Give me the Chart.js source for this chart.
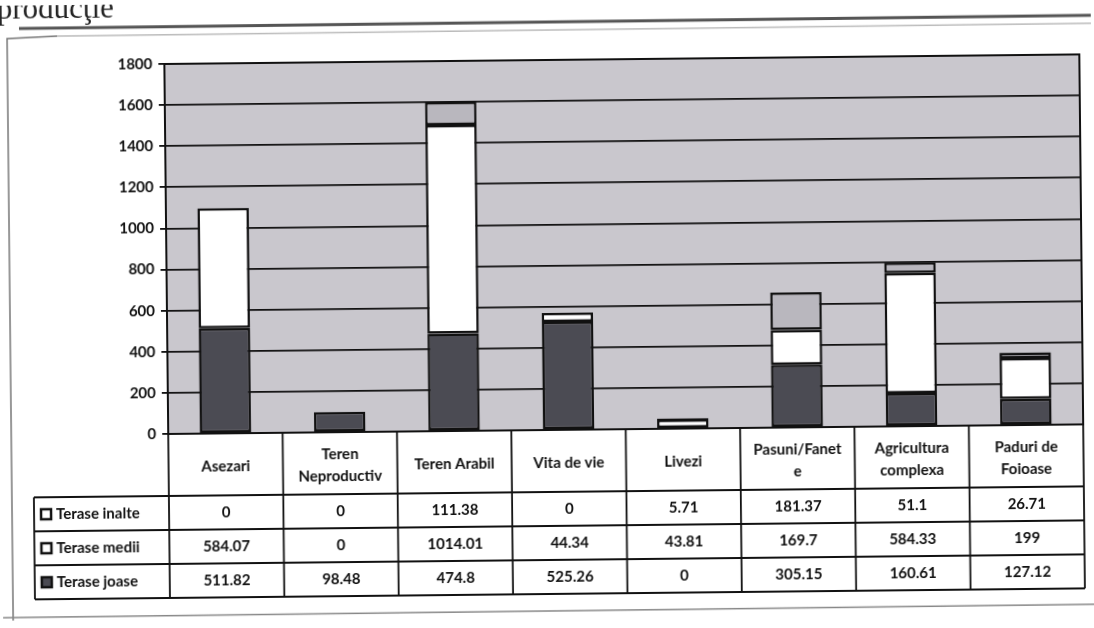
<!DOCTYPE html>
<html>
<head>
<meta charset="utf-8">
<script src="https://cdn.jsdelivr.net/npm/chart.js@4/dist/chart.umd.min.js"></script>
<style>
  html, body { margin: 0; padding: 0; background: #fff; overflow: hidden; }
  #wrap { width: 1094px; height: 628px; position: relative; }
  canvas { transform: rotate(-0.6deg); transform-origin: 50% 50%; }
</style>
</head>
<body>
<div id="wrap"><canvas id="c" width="1094" height="628"></canvas></div>
<script>
// Land use by terrace level (ha)
const categories = ['Asezari', ['Teren', 'Neproductiv'], 'Teren Arabil', 'Vita de vie', 'Livezi',
  ['Pasuni/Fanet', 'e'], ['Agricultura', 'complexa'], ['Paduri de', 'Foioase']];
const teraseJoase  = [511.82, 98.48, 474.8, 525.26, 0, 305.15, 160.61, 127.12];
const teraseMedii  = [584.07, 0, 1014.01, 44.34, 43.81, 169.7, 584.33, 199];
const teraseInalte = [0, 0, 111.38, 0, 5.71, 181.37, 51.1, 26.71];
const yTicks = [0, 200, 400, 600, 800, 1000, 1200, 1400, 1600, 1800];

const seriesNames = ['Terase inalte', 'Terase medii', 'Terase joase'];
const FONT = 'Lato, "Open Sans", sans-serif';
const C_DARK = '#4b4b53';
const C_WHITE = '#ffffff';
const C_GREY = '#b9b7be';
const C_BG = '#c9c7cd';

// zero values are left out of the bars so no empty outline is drawn
const nz = arr => arr.map(v => (v === 0 ? null : v));

const tableRows = [
  { name: seriesNames[0], values: teraseInalte, key: C_WHITE },
  { name: seriesNames[1], values: teraseMedii, key: C_WHITE },
  { name: seriesNames[2], values: teraseJoase, key: C_DARK }
];

const pagePlugin = {
  id: 'page',
  beforeDraw(chart) {
    const ctx = chart.ctx;
    const a = chart.chartArea;
    ctx.save();
    // heading fragment cut by the page edge
    ctx.fillStyle = '#222';
    ctx.font = '31px "Liberation Serif", serif';
    ctx.textBaseline = 'alphabetic';
    ctx.fillText('producţie', 0, 13);
    // page rule
    ctx.strokeStyle = '#555';
    ctx.lineWidth = 3;
    ctx.beginPath(); ctx.moveTo(22, 23); ctx.lineTo(1094, 21); ctx.stroke();
    // outer frame of the chart object
    ctx.strokeStyle = '#777';
    ctx.lineWidth = 1.5;
    ctx.beginPath();
    ctx.moveTo(10, 615); ctx.lineTo(10, 33); ctx.lineTo(60, 31);
    ctx.stroke();
    ctx.strokeStyle = '#bbb';
    ctx.beginPath(); ctx.moveTo(60, 31); ctx.lineTo(1094, 29); ctx.stroke();
    ctx.strokeStyle = '#888';
    ctx.beginPath(); ctx.moveTo(0, 612); ctx.lineTo(1094, 610); ctx.stroke();
    // plot background
    ctx.fillStyle = C_BG;
    ctx.fillRect(a.left, a.top, a.right - a.left, a.bottom - a.top);
    ctx.restore();
  },
  afterDraw(chart) {
    const ctx = chart.ctx;
    const a = chart.chartArea;
    const xs = chart.scales.x;
    const n = categories.length;
    const w = (a.right - a.left) / n;
    const headTop = a.bottom, headBottom = a.bottom + 62;
    const rowH = 34;
    const tableBottom = headBottom + rowH * tableRows.length;
    const legendLeft = 32;
    ctx.save();
    // plot frame
    ctx.strokeStyle = '#111';
    ctx.lineWidth = 2;
    ctx.strokeRect(a.left, a.top, a.right - a.left, a.bottom - a.top);
    // table grid
    ctx.lineWidth = 1.8;
    ctx.beginPath();
    for (let i = 0; i <= n; i++) {
      const x = a.left + i * w;
      ctx.moveTo(x, headTop); ctx.lineTo(x, tableBottom);
    }
    ctx.moveTo(legendLeft, headBottom); ctx.lineTo(legendLeft, tableBottom);
    for (let r = 0; r <= tableRows.length; r++) {
      const y = headBottom + r * rowH;
      ctx.moveTo(legendLeft, y); ctx.lineTo(a.right, y);
    }
    ctx.stroke();
    // category headers
    ctx.fillStyle = '#111';
    ctx.font = 'bold 15px ' + FONT;
    ctx.textAlign = 'center';
    ctx.textBaseline = 'middle';
    categories.forEach((c, i) => {
      const cx = xs.getPixelForValue(i);
      const lines = Array.isArray(c) ? c : [c];
      const lh = 22;
      const y0 = (headTop + headBottom) / 2 - (lines.length - 1) * lh / 2 + 2;
      lines.forEach((t, k) => ctx.fillText(t, cx, y0 + k * lh));
    });
    // series rows
    tableRows.forEach((row, r) => {
      const cy = headBottom + r * rowH + rowH / 2;
      ctx.textAlign = 'center';
      ctx.fillStyle = '#111';
      row.values.forEach((v, i) => ctx.fillText(String(v), xs.getPixelForValue(i), cy));
      // legend key
      ctx.fillStyle = row.key;
      ctx.fillRect(legendLeft + 7, cy - 5, 10, 10);
      ctx.strokeStyle = '#111';
      ctx.lineWidth = 2.5;
      ctx.strokeRect(legendLeft + 7, cy - 5, 10, 10);
      ctx.fillStyle = '#111';
      ctx.textAlign = 'left';
      ctx.fillText(row.name, legendLeft + 22, cy);
    });
    ctx.restore();
  }
};

new Chart(document.getElementById('c'), {
  type: 'bar',
  data: {
    labels: categories,
    datasets: [
      { label: seriesNames[2], data: nz(teraseJoase), backgroundColor: C_DARK },
      { label: seriesNames[1], data: nz(teraseMedii), backgroundColor: C_WHITE },
      { label: seriesNames[0], data: nz(teraseInalte), backgroundColor: C_GREY }
    ].map(d => Object.assign(d, {
      borderColor: '#111', borderWidth: 2.5, borderSkipped: false,
      categoryPercentage: 1, barPercentage: 0.45
    }))
  },
  options: {
    responsive: false,
    animation: false,
    events: [],
    layout: { padding: { top: 60, bottom: 198, right: 12, left: 0 } },
    plugins: { legend: { display: false }, tooltip: { enabled: false } },
    scales: {
      x: { stacked: true, display: false },
      y: {
        stacked: true,
        min: yTicks[0],
        max: yTicks[yTicks.length - 1],
        afterBuildTicks(scale) { scale.ticks = yTicks.map(v => ({ value: v })); },
        afterFit(scale) { scale.width = 167; },
        border: { color: '#111', width: 2 },
        grid: { color: '#111', lineWidth: 1.8, tickLength: 6, drawTicks: true },
        ticks: {
          color: '#111', font: { family: FONT, size: 15, weight: 'bold' }, padding: 6,
          callback: v => String(v)
        }
      }
    }
  },
  plugins: [pagePlugin]
});
</script>
</body>
</html>
